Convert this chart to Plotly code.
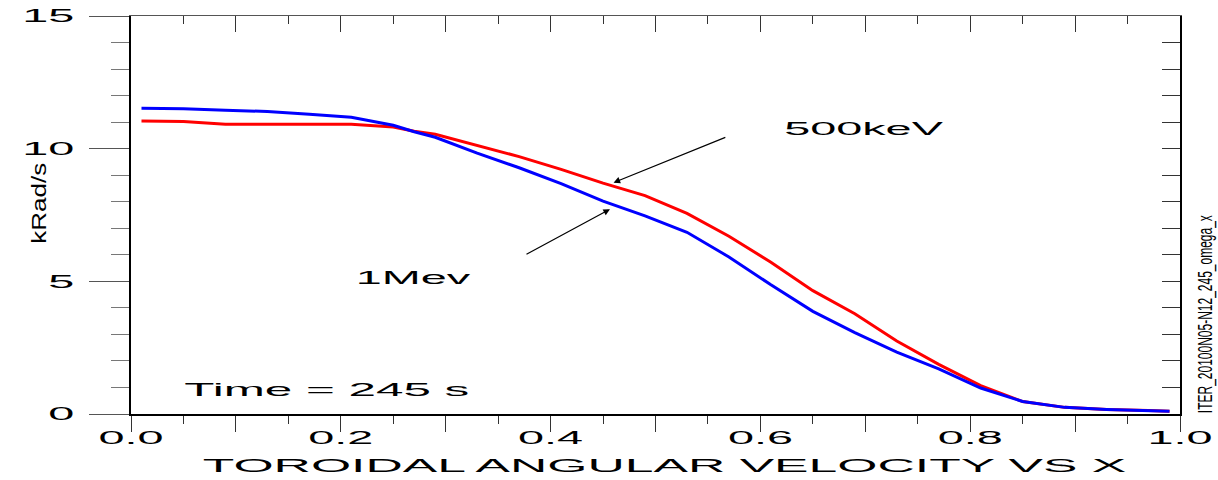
import plotly.graph_objects as go

# ---- data ----
x_vals = [0.01, 0.05, 0.09, 0.13, 0.17, 0.21, 0.25, 0.27, 0.29, 0.33, 0.37, 0.41, 0.45,
          0.49, 0.53, 0.57, 0.61, 0.65, 0.69, 0.73, 0.77, 0.81, 0.85, 0.89, 0.93, 0.97, 0.99]
kev500 = [11.04, 11.02, 10.92, 10.92, 10.93, 10.92, 10.82, 10.66, 10.54, 10.13, 9.70, 9.22, 8.70,
          8.23, 7.56, 6.70, 5.72, 4.65, 3.78, 2.75, 1.87, 1.07, 0.47, 0.25, 0.17, 0.13, 0.10]
mev1 = [11.52, 11.50, 11.45, 11.40, 11.30, 11.18, 10.88, 10.64, 10.43, 9.83, 9.28, 8.68, 8.02,
        7.47, 6.85, 5.92, 4.87, 3.87, 3.07, 2.33, 1.70, 0.98, 0.47, 0.25, 0.17, 0.13, 0.10]

x_tickvals = [0.0, 0.1, 0.2, 0.3, 0.4, 0.5, 0.6, 0.7, 0.8, 0.9, 1.0]
x_ticktext = ["0.0", "", "0.2", "", "0.4", "", "0.6", "", "0.8", "", "1.0"]
y_tickvals = [0, 5, 10, 15]
y_ticktext = ["0", "5", "10", "15"]

FONT = "Liberation Sans, Arial, Helvetica, sans-serif"

fig = go.Figure()
fig.add_trace(go.Scatter(x=x_vals, y=kev500, mode="lines", name="500keV",
                         line=dict(color="#ff0000", width=3), hoverinfo="skip"))
fig.add_trace(go.Scatter(x=x_vals, y=mev1, mode="lines", name="1Mev",
                         line=dict(color="#0000ff", width=3), hoverinfo="skip"))
# invisible trace to host the mirrored (inside-tick) top/right axes
fig.add_trace(go.Scatter(x=x_vals, y=mev1, mode="lines", xaxis="x2", yaxis="y2",
                         line=dict(color="rgba(0,0,0,0)", width=0), hoverinfo="skip",
                         showlegend=False))

fig.update_layout(
    width=1218, height=480,
    margin=dict(l=131, r=38, t=16, b=66),
    paper_bgcolor="white", plot_bgcolor="white",
    showlegend=False,
    font=dict(family=FONT, color="black", size=18),
    xaxis=dict(range=[0, 1.0], tickmode="array", tickvals=x_tickvals, ticktext=x_ticktext,
               ticks="outside", ticklen=16, tickwidth=1, tickcolor="#333",
               minor=dict(dtick=0.05, ticks="outside", ticklen=8, tickwidth=1, tickcolor="#333"),
               showline=True, linecolor="black", linewidth=1.5, showgrid=False, zeroline=False,
               tickfont=dict(size=18, family=FONT), ticklabelstandoff=-9, automargin=False),
    yaxis=dict(range=[0, 15], tickmode="array", tickvals=y_tickvals, ticktext=y_ticktext,
               ticks="outside", ticklen=40, tickwidth=1, tickcolor="#555",
               minor=dict(dtick=1, ticks="outside", ticklen=18, tickwidth=1, tickcolor="#777"),
               showline=True, linecolor="black", linewidth=2, showgrid=False, zeroline=False,
               tickfont=dict(size=18, family=FONT), ticklabelstandoff=11, automargin=False),
    xaxis2=dict(range=[0, 1.0], overlaying="x", side="top", anchor="y2",
                tickmode="array", tickvals=x_tickvals, showticklabels=False,
                ticks="inside", ticklen=16, tickwidth=1, tickcolor="#333",
                minor=dict(dtick=0.05, ticks="inside", ticklen=8, tickwidth=1, tickcolor="#333"),
                showline=True, linecolor="#555", linewidth=1.2, showgrid=False, zeroline=False),
    yaxis2=dict(range=[0, 15], overlaying="y", side="right", anchor="x2",
                tickmode="linear", dtick=1, showticklabels=False,
                ticks="inside", ticklen=18, tickwidth=1, tickcolor="#333",
                showline=True, linecolor="black", linewidth=1.5, showgrid=False, zeroline=False),
)

C = dict(xanchor="center", yanchor="middle", showarrow=False)
annos = [
    dict(text="500keV", x=0.698, y=10.74, xref="x", yref="y", font=dict(size=18), **C),
    dict(text="1Mev", x=0.269, y=5.13, xref="x", yref="y", font=dict(size=18), **C),
    dict(text="Time = 245 s", x=0.187, y=0.905, xref="x", yref="y", font=dict(size=19), **C),
    dict(text="", x=0.460, y=8.72, ax=0.568, ay=10.45, xref="x", yref="y", axref="x", ayref="y",
         showarrow=True, arrowhead=2, arrowsize=1.1, arrowwidth=1.2, arrowcolor="black", standoff=0),
    dict(text="", x=0.4566, y=7.72, ax=0.3756, ay=5.99, xref="x", yref="y", axref="x", ayref="y",
         showarrow=True, arrowhead=2, arrowsize=1.1, arrowwidth=1.2, arrowcolor="black", standoff=0),
    dict(text="TOROIDAL ANGULAR VELOCITY VS X", x=0.509, y=-0.13, xref="paper", yref="paper",
         font=dict(size=19), **C),
    dict(text="kRad/s", x=-0.0887, y=0.53, xref="paper", yref="paper", textangle=-90,
         font=dict(size=21), **C),
    dict(text="ITER_20100N05-N12_245_omega_x", x=1.024, y=0.251, xref="paper", yref="paper",
         textangle=-90, font=dict(size=20), **C),
]
fig.update_layout(annotations=annos)

# Horizontally stretch the texts (the reference uses a widened Helvetica);
# scale each text about its anchor point so its position stays put.
post = """
document.documentElement.style.margin = '0';
document.body.style.margin = '0';
document.body.style.padding = '0';
var gd = document.getElementById('{plot_id}');
var K = 2.6;
var special = {"kRad/s": 1.24, "ITER_20100N05-N12_245_omega_x": 0.6,
               "TOROIDAL ANGULAR VELOCITY VS X": 2.72};
gd.querySelectorAll('g.xtick > text, g.ytick > text, text.annotation-text').forEach(function(t){
  var s = t.textContent;
  if (!s) return;
  var f = special.hasOwnProperty(s) ? special[s] : K;
  var b = t.getBBox();
  if (!(b.width > 0)) return;
  var anchor = t.getAttribute('text-anchor') || window.getComputedStyle(t).textAnchor;
  var cx = b.x + b.width / 2;
  if (anchor === 'end') cx = b.x + b.width;
  else if (anchor === 'start') cx = b.x;
  var old = t.getAttribute('transform') || '';
  t.setAttribute('transform', old + ' translate(' + cx + ',0) scale(' + f + ',1) translate(' + (-cx) + ',0)');
});
"""

fig.write_html("out.html", config=dict(displayModeBar=False, staticPlot=True), post_script=post)
